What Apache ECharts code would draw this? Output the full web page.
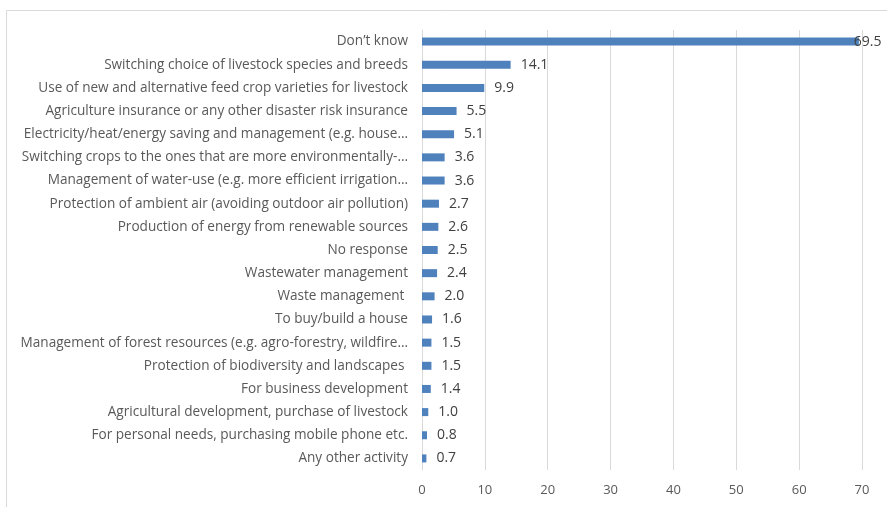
<!DOCTYPE html>
<html>
<head>
<meta charset="utf-8">
<script src="https://cdn.jsdelivr.net/npm/echarts@6/dist/echarts.min.js"></script>
<style>
  html, body { margin: 0; padding: 0; background: #fff; }
  #chart { width: 887px; height: 507px; }
</style>
</head>
<body>
<div id="chart"></div>
<script>
// Survey responses, share of respondents (%)
const categories = [
  'Don\u2019t know',
  'Switching choice of livestock species and breeds',
  'Use of new and alternative feed crop varieties for livestock',
  'Agriculture insurance or any other disaster risk insurance',
  'Electricity/heat/energy saving and management (e.g. house\u2026',
  'Switching crops to the ones that are more environmentally-\u2026',
  'Management of water-use (e.g. more efficient irrigation\u2026',
  'Protection of ambient air (avoiding outdoor air pollution)',
  'Production of energy from renewable sources',
  'No response',
  'Wastewater management',
  'Waste management ',
  'To buy/build a house',
  'Management of forest resources (e.g. agro-forestry, wildfire\u2026',
  'Protection of biodiversity and landscapes ',
  'For business development',
  'Agricultural development, purchase of livestock',
  'For personal needs, purchasing mobile phone etc.',
  'Any other activity'
];
const values = [69.5, 14.1, 9.9, 5.5, 5.1, 3.6, 3.6, 2.7, 2.6, 2.5, 2.4, 2.0, 1.6, 1.5, 1.5, 1.4, 1.0, 0.8, 0.7];
const axisTicks = [0, 10, 20, 30, 40, 50, 60, 70];

const FONT = '"Open Sans", "Liberation Sans", Arial, sans-serif';
const chart = echarts.init(document.getElementById('chart'), null, { renderer: 'canvas' });

const axisMax = axisTicks[axisTicks.length - 1];
const barData = values.map(v => {
  // labels of bars that reach the right edge sit over the bar end
  if (v > axisMax * 0.95) {
    return { value: v, label: { distance: -5 } };
  }
  return v;
});

chart.setOption({
  animation: false,
  graphic: [{
    type: 'rect',
    shape: { x: 6.5, y: 10.5, width: 900, height: 600 },
    style: { fill: 'none', stroke: '#d9d9d9', lineWidth: 1 },
    silent: true
  }],
  grid: { left: 422, right: 25, top: 30, bottom: 37, containLabel: false },
  xAxis: {
    type: 'value',
    min: axisTicks[0],
    max: axisMax,
    interval: 10,
    axisLine: { show: false },
    axisTick: { show: false },
    splitLine: { show: true, lineStyle: { color: '#d9d9d9', width: 1 } },
    axisLabel: { color: '#595959', fontFamily: FONT, fontSize: 13, margin: 14 }
  },
  yAxis: {
    type: 'category',
    inverse: true,
    data: categories,
    axisLine: { show: true, lineStyle: { color: '#d9d9d9', width: 1 } },
    axisTick: { show: false },
    axisLabel: { color: '#595959', fontFamily: FONT, fontSize: 13.6, margin: 14 }
  },
  series: [{
    type: 'bar',
    data: barData,
    barWidth: 8,
    itemStyle: { color: '#4f81bd' },
    label: {
      show: true,
      position: 'right',
      distance: 10,
      color: '#404040',
      fontFamily: FONT,
      fontSize: 14,
      formatter: p => Number(p.value).toFixed(1)
    }
  }]
});
</script>
</body>
</html>
